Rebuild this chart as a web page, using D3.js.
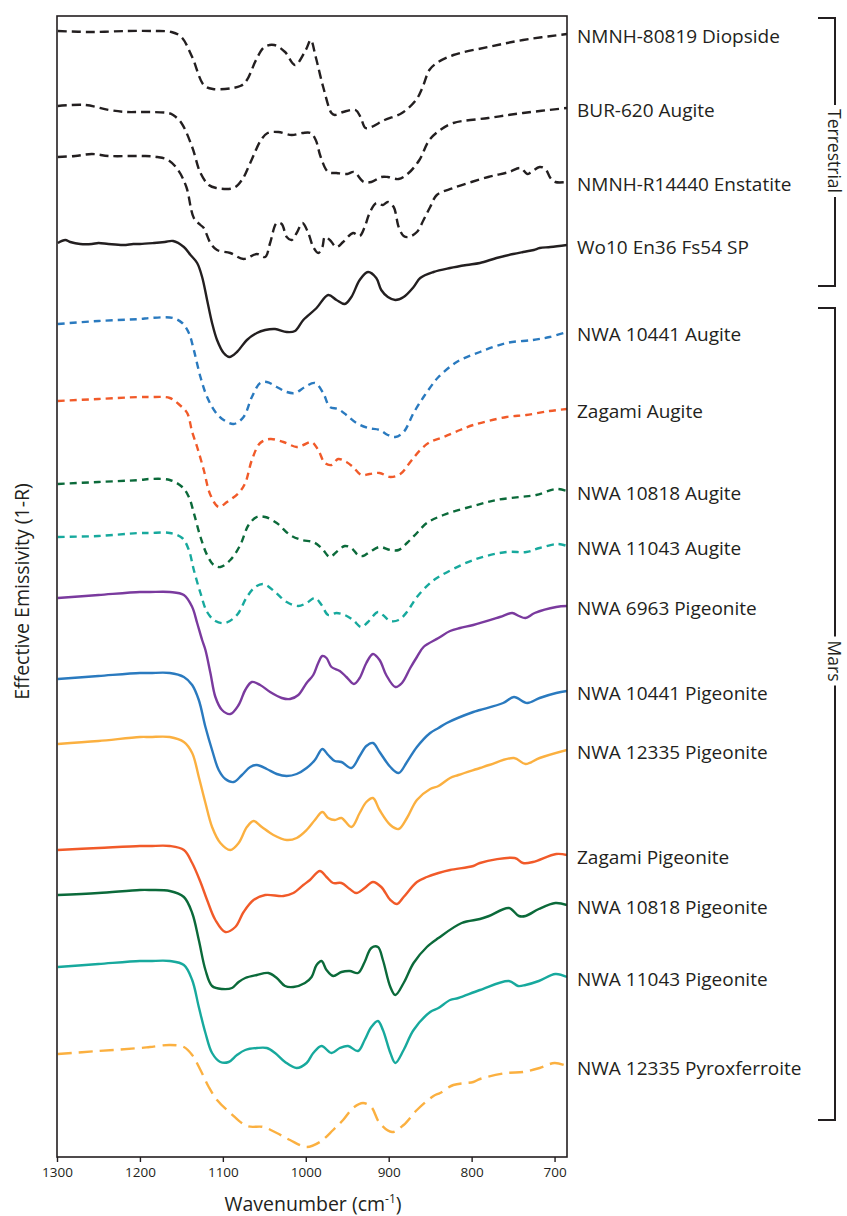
<!DOCTYPE html>
<html>
<head>
<meta charset="utf-8">
<script src="https://cdn.jsdelivr.net/npm/d3@7"></script>
<style>
  body { margin: 0; background: #fff; }
  text { font-family: "Open Sans", "Noto Sans", sans-serif; fill: #231f20; }
</style>
</head>
<body>
<svg id="chart" width="847" height="1216"></svg>
<script>
// Stacked thermal-IR spectra: [wavenumber (cm-1), offset effective emissivity]

const diopside80819 = [[1299,1.126],[1258,1.125],[1216,1.126],[1183,1.126],[1162,1.125],[1150,1.120],[1137,1.100],[1123,1.072],[1112,1.068],[1079,1.071],[1071,1.077],[1060,1.097],[1050,1.110],[1038,1.112],[1025,1.105],[1013,1.092],[1000,1.107],[994,1.117],[988,1.100],[979,1.070],[969,1.044],[965,1.042],[955,1.045],[940,1.047],[934,1.040],[928,1.029],[921,1.030],[905,1.037],[884,1.044],[867,1.057],[859,1.070],[851,1.087],[842,1.094],[822,1.102],[780,1.110],[738,1.117],[685,1.123]];

const augiteBUR620 = [[1299,1.051],[1266,1.052],[1237,1.047],[1216,1.045],[1196,1.045],[1166,1.044],[1160,1.042],[1150,1.034],[1137,1.010],[1127,0.984],[1117,0.972],[1108,0.969],[1087,0.969],[1077,0.977],[1067,0.994],[1054,1.017],[1046,1.024],[1033,1.025],[1017,1.022],[1004,1.024],[994,1.024],[988,1.017],[982,1.000],[973,0.985],[963,0.984],[950,0.983],[942,0.985],[930,0.975],[921,0.975],[909,0.980],[901,0.980],[888,0.978],[876,0.984],[863,0.997],[851,1.017],[838,1.027],[822,1.034],[780,1.039],[738,1.044],[685,1.049]];

const enstatiteR14440 = [[1299,1.000],[1278,1.001],[1258,1.003],[1237,1.001],[1196,1.001],[1179,1.000],[1166,0.997],[1154,0.987],[1144,0.970],[1135,0.939],[1127,0.932],[1123,0.929],[1115,0.914],[1107,0.907],[1091,0.904],[1075,0.898],[1059,0.903],[1049,0.900],[1043,0.914],[1035,0.934],[1029,0.933],[1023,0.920],[1017,0.917],[1011,0.924],[1004,0.934],[997,0.924],[991,0.910],[985,0.904],[980,0.910],[977,0.920],[971,0.917],[963,0.910],[955,0.915],[943,0.924],[935,0.921],[929,0.930],[923,0.944],[915,0.954],[907,0.952],[901,0.955],[894,0.950],[888,0.930],[882,0.921],[876,0.920],[866,0.925],[858,0.937],[850,0.950],[842,0.962],[822,0.969],[780,0.980],[755,0.985],[741,0.989],[733,0.983],[728,0.985],[718,0.990],[711,0.988],[705,0.979],[699,0.975],[685,0.975]];

const wo10En36Fs54 = [[1299,0.914],[1290,0.917],[1284,0.915],[1272,0.913],[1258,0.913],[1250,0.914],[1238,0.913],[1220,0.912],[1208,0.913],[1200,0.913],[1183,0.914],[1170,0.915],[1160,0.916],[1147,0.910],[1139,0.902],[1131,0.894],[1125,0.880],[1119,0.857],[1113,0.834],[1107,0.817],[1099,0.804],[1092,0.800],[1083,0.805],[1071,0.817],[1059,0.824],[1049,0.827],[1037,0.828],[1023,0.825],[1013,0.826],[1003,0.837],[987,0.849],[973,0.862],[963,0.857],[953,0.853],[945,0.860],[935,0.877],[925,0.885],[915,0.879],[909,0.867],[901,0.860],[892,0.857],[882,0.860],[870,0.870],[862,0.879],[846,0.885],[826,0.889],[806,0.892],[790,0.894],[770,0.899],[750,0.903],[738,0.905],[725,0.907],[718,0.909],[705,0.910],[685,0.912]];

const augite10441 = [[1299,0.833],[1250,0.836],[1200,0.838],[1188,0.839],[1160,0.839],[1149,0.834],[1141,0.824],[1135,0.807],[1127,0.780],[1119,0.760],[1109,0.745],[1099,0.737],[1087,0.733],[1075,0.740],[1065,0.760],[1055,0.774],[1047,0.775],[1035,0.770],[1023,0.765],[1013,0.764],[1001,0.770],[989,0.774],[979,0.764],[971,0.750],[961,0.748],[951,0.742],[939,0.734],[925,0.729],[911,0.727],[901,0.722],[892,0.720],[882,0.725],[870,0.744],[858,0.760],[846,0.774],[840,0.780],[818,0.795],[790,0.805],[758,0.814],[726,0.817],[706,0.820],[685,0.825]];

const augiteZagami = [[1299,0.756],[1250,0.758],[1200,0.760],[1188,0.760],[1164,0.759],[1152,0.752],[1143,0.744],[1137,0.725],[1131,0.710],[1123,0.687],[1115,0.662],[1105,0.650],[1095,0.655],[1081,0.664],[1073,0.674],[1065,0.697],[1055,0.714],[1043,0.718],[1027,0.715],[1011,0.710],[1003,0.712],[993,0.715],[985,0.707],[977,0.694],[969,0.692],[961,0.698],[951,0.695],[943,0.690],[933,0.682],[923,0.683],[911,0.684],[898,0.680],[886,0.683],[874,0.695],[862,0.707],[850,0.715],[834,0.720],[814,0.727],[798,0.732],[758,0.740],[734,0.742],[706,0.746],[685,0.748]];

const augite10818 = [[1299,0.673],[1250,0.675],[1200,0.677],[1188,0.678],[1164,0.677],[1149,0.670],[1141,0.660],[1135,0.644],[1127,0.620],[1119,0.602],[1111,0.592],[1103,0.590],[1091,0.597],[1079,0.612],[1069,0.632],[1059,0.640],[1049,0.640],[1035,0.634],[1019,0.622],[1005,0.617],[991,0.615],[981,0.609],[971,0.600],[963,0.605],[953,0.611],[945,0.609],[937,0.602],[931,0.601],[923,0.605],[911,0.610],[898,0.607],[888,0.607],[878,0.614],[866,0.624],[854,0.634],[834,0.642],[798,0.651],[770,0.657],[742,0.660],[722,0.662],[698,0.668],[685,0.666]];

const augite11043 = [[1299,0.620],[1250,0.621],[1200,0.624],[1188,0.624],[1164,0.624],[1149,0.619],[1141,0.607],[1135,0.587],[1127,0.564],[1119,0.545],[1109,0.536],[1097,0.534],[1083,0.542],[1071,0.560],[1061,0.570],[1051,0.573],[1037,0.565],[1023,0.555],[1009,0.551],[999,0.554],[989,0.559],[981,0.552],[973,0.542],[963,0.544],[953,0.542],[943,0.537],[933,0.530],[925,0.535],[913,0.545],[907,0.542],[898,0.536],[888,0.537],[878,0.545],[866,0.560],[850,0.574],[840,0.580],[798,0.597],[758,0.605],[734,0.605],[718,0.609],[696,0.613],[685,0.611]];

const pigeonite6963 = [[1299,0.559],[1250,0.562],[1200,0.565],[1188,0.565],[1164,0.565],[1147,0.562],[1137,0.550],[1131,0.534],[1125,0.517],[1121,0.507],[1115,0.484],[1109,0.460],[1101,0.447],[1091,0.443],[1081,0.452],[1073,0.467],[1065,0.475],[1055,0.472],[1043,0.465],[1029,0.459],[1019,0.458],[1009,0.462],[999,0.474],[991,0.482],[985,0.494],[980,0.501],[975,0.499],[969,0.490],[959,0.486],[951,0.480],[942,0.473],[935,0.479],[927,0.494],[919,0.503],[911,0.497],[903,0.482],[892,0.470],[884,0.474],[874,0.489],[866,0.500],[858,0.510],[840,0.519],[826,0.526],[814,0.529],[798,0.532],[766,0.540],[751,0.544],[743,0.541],[735,0.539],[724,0.544],[698,0.550],[685,0.551]];

const pigeonite10441 = [[1299,0.478],[1250,0.481],[1200,0.484],[1188,0.484],[1164,0.484],[1147,0.480],[1137,0.472],[1129,0.457],[1121,0.430],[1113,0.407],[1105,0.387],[1097,0.378],[1087,0.375],[1077,0.382],[1067,0.390],[1059,0.392],[1047,0.388],[1035,0.383],[1023,0.381],[1011,0.383],[999,0.389],[989,0.397],[980,0.408],[973,0.402],[965,0.396],[957,0.395],[945,0.389],[935,0.401],[927,0.411],[919,0.414],[911,0.405],[898,0.390],[888,0.384],[878,0.395],[866,0.410],[850,0.424],[840,0.429],[830,0.434],[798,0.445],[790,0.447],[762,0.454],[749,0.460],[733,0.454],[718,0.459],[698,0.464],[685,0.466]];

const pigeonite12335 = [[1299,0.413],[1250,0.416],[1200,0.420],[1188,0.420],[1164,0.420],[1147,0.415],[1137,0.404],[1129,0.380],[1121,0.354],[1113,0.330],[1103,0.314],[1091,0.307],[1081,0.314],[1071,0.330],[1063,0.336],[1053,0.330],[1039,0.322],[1023,0.317],[1011,0.319],[999,0.327],[989,0.337],[980,0.345],[973,0.339],[965,0.337],[957,0.339],[945,0.330],[935,0.344],[927,0.355],[919,0.359],[911,0.347],[898,0.332],[888,0.328],[878,0.339],[866,0.357],[850,0.368],[840,0.371],[826,0.379],[816,0.382],[790,0.389],[779,0.392],[749,0.399],[735,0.393],[718,0.399],[685,0.407]];

const pigeoniteZagami = [[1299,0.307],[1250,0.309],[1200,0.311],[1188,0.311],[1164,0.311],[1147,0.307],[1137,0.294],[1127,0.275],[1119,0.257],[1109,0.237],[1097,0.225],[1085,0.230],[1075,0.245],[1063,0.257],[1049,0.262],[1027,0.261],[1015,0.264],[1003,0.272],[995,0.277],[983,0.286],[975,0.280],[967,0.274],[957,0.274],[947,0.268],[939,0.264],[929,0.269],[919,0.275],[909,0.270],[898,0.257],[890,0.253],[882,0.260],[866,0.275],[854,0.280],[840,0.284],[826,0.287],[798,0.291],[790,0.294],[748,0.299],[738,0.294],[726,0.295],[698,0.303],[685,0.302]];

const pigeonite10818 = [[1299,0.262],[1250,0.264],[1200,0.267],[1188,0.267],[1164,0.266],[1147,0.260],[1137,0.244],[1129,0.217],[1121,0.187],[1113,0.171],[1101,0.168],[1089,0.169],[1081,0.175],[1073,0.179],[1059,0.182],[1045,0.184],[1035,0.179],[1025,0.171],[1015,0.170],[1001,0.174],[993,0.180],[987,0.192],[981,0.196],[975,0.187],[967,0.181],[957,0.185],[947,0.186],[937,0.184],[929,0.195],[921,0.209],[913,0.210],[907,0.197],[898,0.170],[892,0.162],[882,0.174],[870,0.194],[854,0.210],[840,0.219],[812,0.234],[790,0.238],[779,0.241],[755,0.249],[743,0.241],[735,0.241],[719,0.248],[699,0.254],[685,0.252]];

const pigeonite11043 = [[1299,0.190],[1250,0.193],[1200,0.196],[1188,0.196],[1164,0.196],[1147,0.192],[1137,0.177],[1129,0.150],[1121,0.124],[1113,0.104],[1103,0.095],[1093,0.095],[1083,0.102],[1073,0.107],[1059,0.109],[1047,0.109],[1037,0.104],[1025,0.095],[1011,0.089],[999,0.094],[991,0.104],[981,0.111],[969,0.104],[959,0.109],[949,0.111],[937,0.106],[929,0.117],[921,0.130],[913,0.136],[907,0.127],[898,0.104],[892,0.094],[882,0.107],[870,0.127],[850,0.145],[840,0.149],[826,0.157],[816,0.159],[790,0.167],[755,0.176],[744,0.171],[735,0.172],[719,0.176],[699,0.183],[685,0.180]];

const pyroxferroite12335 = [[1299,0.103],[1250,0.106],[1200,0.109],[1188,0.110],[1164,0.112],[1147,0.110],[1137,0.102],[1127,0.087],[1117,0.070],[1107,0.057],[1091,0.044],[1071,0.031],[1051,0.030],[1035,0.024],[1019,0.017],[999,0.010],[983,0.015],[967,0.027],[955,0.037],[943,0.049],[931,0.054],[921,0.050],[911,0.034],[896,0.025],[882,0.032],[866,0.047],[846,0.061],[838,0.064],[822,0.072],[798,0.075],[790,0.078],[758,0.084],[738,0.085],[718,0.089],[700,0.094],[685,0.091]];

const xTicks = [1300, 1200, 1100, 1000, 900, 800, 700];

const sampleLabels = [
  "NMNH-80819 Diopside", "BUR-620 Augite", "NMNH-R14440 Enstatite", "Wo10 En36 Fs54 SP",
  "NWA 10441 Augite", "Zagami Augite", "NWA 10818 Augite", "NWA 11043 Augite",
  "NWA 6963 Pigeonite", "NWA 10441 Pigeonite", "NWA 12335 Pigeonite", "Zagami Pigeonite",
  "NWA 10818 Pigeonite", "NWA 11043 Pigeonite", "NWA 12335 Pyroxferroite"
];
const sampleData = [
  diopside80819, augiteBUR620, enstatiteR14440, wo10En36Fs54,
  augite10441, augiteZagami, augite10818, augite11043,
  pigeonite6963, pigeonite10441, pigeonite12335, pigeoniteZagami,
  pigeonite10818, pigeonite11043, pyroxferroite12335
];

// Sample groups: label and the emissivity span each bracket covers
const groupNames = ["Terrestrial", "Mars"];
const groupSpans = [[1.139, 0.871], [0.849, 0.037]];
const groupLabelAt = [1.006, 0.496];

// Line styles per sample (colour, dash pattern)
const lineColors = ["#231f20", "#231f20", "#231f20", "#231f20",
  "#2a7abf", "#f15a29", "#0b6a3a", "#17a99d",
  "#7a3a9e", "#2a7abf", "#fbb040", "#f15a29",
  "#0b6a3a", "#17a99d", "#fbb040"];
const lineDashes = ["9,5", "9,5", "9,5", null,
  "7,5", "7,5", "7,5", "7,5",
  null, null, null, null,
  null, null, "14,7"];

const W = 847, H = 1216;
const margin = { left: 57, right: 280, top: 16, bottom: 59 };
const plotL = margin.left, plotR = W - margin.right, plotT = margin.top, plotB = H - margin.bottom;

const svg = d3.select("#chart");
svg.append("rect").attr("width", W).attr("height", H).attr("fill", "#fff");

const x = d3.scaleLinear().domain([1300, 685]).range([plotL, plotR]);
const y = d3.scaleLinear().domain([0, 1.141]).range([plotB, plotT]);

svg.append("clipPath").attr("id", "plotClip")
  .append("rect").attr("x", plotL).attr("y", plotT).attr("width", plotR - plotL).attr("height", plotB - plotT);

const line = d3.line()
  .x(d => x(d[0]))
  .y(d => y(d[1]))
  .curve(d3.curveCatmullRom.alpha(0.5));

const gLines = svg.append("g").attr("clip-path", "url(#plotClip)");
sampleData.forEach((data, i) => {
  gLines.append("path")
    .datum(data)
    .attr("d", line)
    .attr("fill", "none")
    .attr("stroke", lineColors[i])
    .attr("stroke-width", 2.4)
    .attr("stroke-linejoin", "round")
    .attr("stroke-dasharray", lineDashes[i]);
});

// Frame
svg.append("rect")
  .attr("x", plotL).attr("y", plotT)
  .attr("width", plotR - plotL).attr("height", plotB - plotT)
  .attr("fill", "none").attr("stroke", "#231f20").attr("stroke-width", 1.6);

// Bottom axis
const xAxis = d3.axisBottom(x).tickValues(xTicks).tickSize(5).tickPadding(5).tickFormat(d3.format("d"));
const gx = svg.append("g").attr("transform", `translate(0,${plotB})`).call(xAxis);
gx.select(".domain").remove();
gx.selectAll(".tick line").attr("stroke", "#231f20").attr("stroke-width", 1.4);
gx.selectAll(".tick text").attr("font-size", 13.5).attr("font-family", "'Open Sans', sans-serif").attr("fill", "#231f20");

// Axis titles
const xTitle = svg.append("text")
  .attr("x", (plotL + plotR) / 2 + 1).attr("y", 1211)
  .attr("text-anchor", "middle").attr("font-size", 19.5);
xTitle.append("tspan").text("Wavenumber (cm");
xTitle.append("tspan").attr("font-size", 12).attr("dy", -8).text("-1");
xTitle.append("tspan").attr("dy", 8).text(")");

svg.append("text")
  .attr("transform", `translate(29,${(plotT + plotB) / 2 + 5}) rotate(-90)`)
  .attr("text-anchor", "middle").attr("font-size", 19.5)
  .text("Effective Emissivity (1-R)");

// Sample labels at each spectrum's right-hand end
sampleData.forEach((data, i) => {
  const last = data[data.length - 1];
  svg.append("text")
    .attr("x", plotR + 10)
    .attr("y", y(last[1]) + 2)
    .attr("dominant-baseline", "central")
    .attr("font-size", 19)
    .text(sampleLabels[i]);
});

// Group brackets
const bx = 835, armL = 818;
groupNames.forEach((name, i) => {
  const y0 = y(groupSpans[i][0]), y1 = y(groupSpans[i][1]), yc = y(groupLabelAt[i]);
  const t = svg.append("text")
    .attr("transform", `translate(${bx},${yc}) rotate(90)`)
    .attr("text-anchor", "middle")
    .attr("dominant-baseline", "central")
    .attr("font-size", 17.5)
    .text(name);
  const half = t.node().getComputedTextLength() / 2 + 4;
  const g = svg.append("g").attr("fill", "none").attr("stroke", "#231f20").attr("stroke-width", 2);
  g.append("path").attr("d", `M${armL},${y0}H${bx}V${yc - half}`);
  g.append("path").attr("d", `M${armL},${y1}H${bx}V${yc + half}`);
});
</script>
</body>
</html>
